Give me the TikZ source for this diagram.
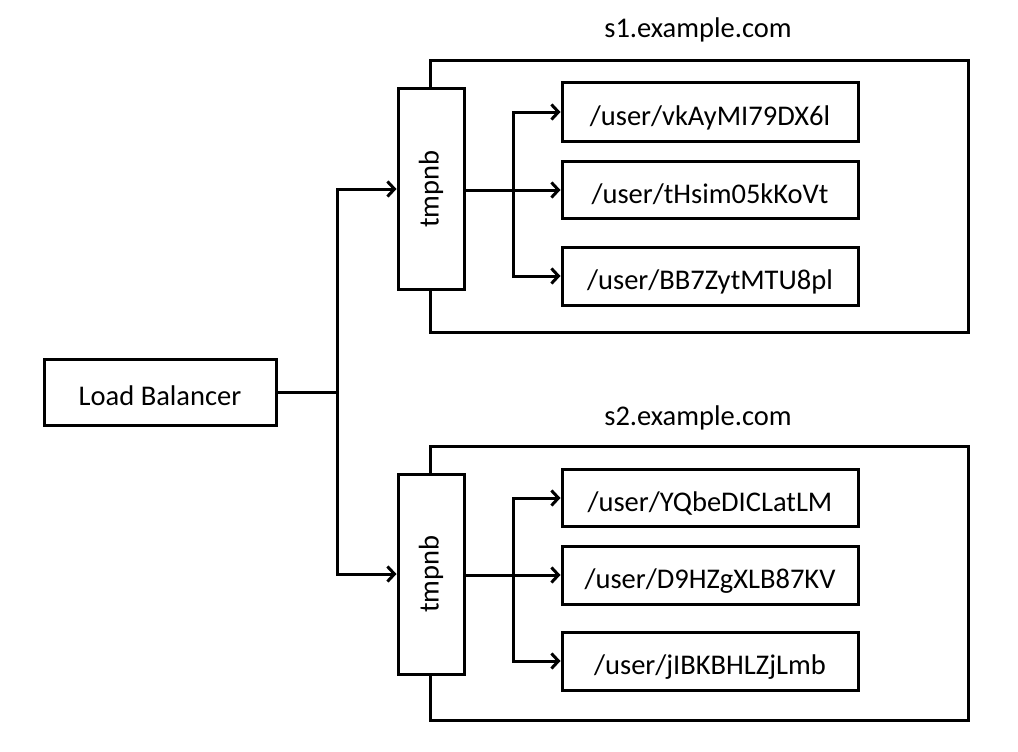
\documentclass[tikz,border=0pt]{standalone}
\usepackage{fontspec}
\setmainfont{Carlito}
\usetikzlibrary{arrows.meta}
\begin{document}
\begin{tikzpicture}[x=1pt,y=-1pt,
  box/.style={draw,line width=3pt,fill=white,inner sep=0pt,font=\fontsize{28.5}{34}\selectfont},
  hbox/.style={box,text height=26pt,text depth=0pt},
  srv/.style={draw,line width=3pt,inner sep=0pt},
  conn/.style={line width=3pt},
  arr/.style={conn,-{Straight Barb[length=7pt,width=15pt,line width=3pt]}},
  title/.style={font=\fontsize{28.5}{34}\selectfont}
]
\useasboundingbox (0,0) rectangle (1018,752);
% server frames
\node[srv,minimum width=538pt,minimum height=271pt] (s1) at (699,196.5) {};
\node[srv,minimum width=538pt,minimum height=274pt] (s2) at (699,583) {};
\node[title] (s1t) at (698,30) {s1.example.com};
\node[title] (s2t) at (698,418) {s2.example.com};
% load balancer
\node[hbox,minimum width=232pt,minimum height=66pt] (lb) at (160,392) {Load Balancer};
% tmpnb
\node[box,minimum width=66pt,minimum height=200pt] (t1) at (431,189) {\rotatebox{90}{tmpnb}};
\node[box,minimum width=66pt,minimum height=200pt] (t2) at (431,574) {\rotatebox{90}{tmpnb}};
% user boxes
\node[hbox,minimum width=296pt,minimum height=58pt] (u1) at (710,112) {/user/vkAyMI79DX6l};
\node[hbox,minimum width=296pt,minimum height=57pt] (u2) at (710,190) {/user/tHsim05kKoVt};
\node[hbox,minimum width=296pt,minimum height=58pt] (u3) at (710,276) {/user/BB7ZytMTU8pl};
\node[hbox,minimum width=296pt,minimum height=57pt] (u4) at (710,498) {/user/YQbeDICLatLM};
\node[hbox,minimum width=296pt,minimum height=58pt] (u5) at (710,575) {/user/D9HZgXLB87KV};
\node[hbox,minimum width=296pt,minimum height=58pt] (u6) at (710,661) {/user/jIBKBHLZjLmb};
% connectors
\coordinate (j) at (337,392);
\draw[conn] (lb.east) -- (j);
\draw[arr] (j) |- (t1.west);
\draw[arr] (j) |- (t2.west);
\coordinate (b1) at (513,190);
\coordinate (b2) at (513,575);
\draw[conn] (t1.east |- b1) -- (b1);
\draw[conn] (t2.east |- b2) -- (b2);
\draw[arr] (b1) |- (u1.west);
\draw[arr] (b1) -- (u2.west |- b1);
\draw[arr] (b1) |- (u3.west);
\draw[arr] (b2) |- (u4.west);
\draw[arr] (b2) -- (u5.west |- b2);
\draw[arr] (b2) |- (u6.west);
\end{tikzpicture}
\end{document}
